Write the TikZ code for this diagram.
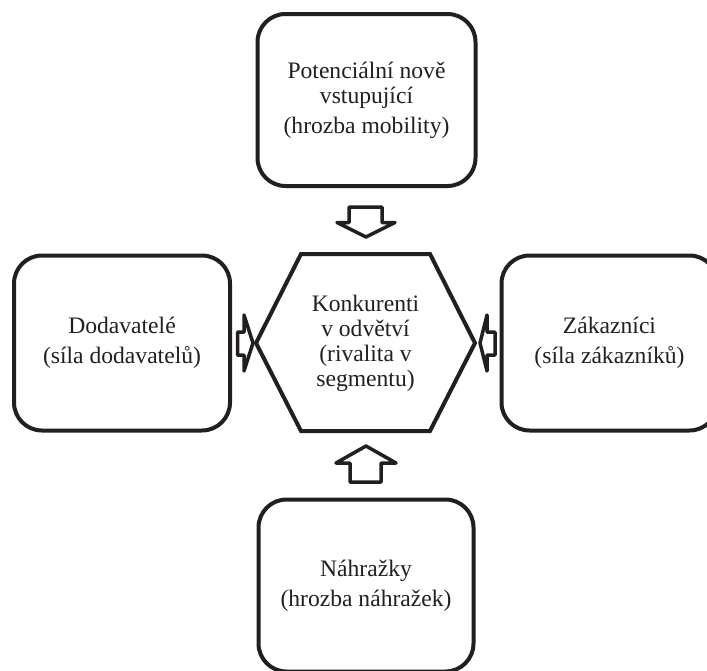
\documentclass[tikz,border=0pt]{standalone}
\usepackage{fontspec}
\setmainfont{Liberation Serif}
\definecolor{ink}{RGB}{35,31,32}
\begin{document}
\begin{tikzpicture}[x=1pt,y=-1pt,
  label font/.style={font=\fontsize{23.6}{25}\selectfont, text=ink, align=center},
  box/.style={draw=ink, line width=4pt, rounded corners=28pt, label font},
  hexline/.style={draw=ink, line width=4pt, line join=miter},
  blockarrow/.style={draw=ink, line width=3.5pt, line join=round, fill=white}]
  % canvas
  \useasboundingbox (0,0) rectangle (707,670);
  \fill[white] (0,0) rectangle (707,670);
  \clip (0,0) rectangle (707,670);

  % the four forces around the centre
  \node[box, minimum width=218pt, minimum height=172pt] (entrants) at (366.5,100)
    {Potenciální nově\\vstupující\\[5pt](hrozba mobility)};
  \node[box, minimum width=216pt, minimum height=175pt] (suppliers) at (122,343)
    {Dodavatelé\\[5pt](síla dodavatelů)};
  \node[box, minimum width=216pt, minimum height=175pt] (buyers) at (609.5,343)
    {Zákazníci\\[5pt](síla zákazníků)};
  \node[box, minimum width=215pt, minimum height=172pt] (substitutes) at (366,585.5)
    {Náhražky\\[5pt](hrozba náhražek)};

  % central hexagon: rivalry within the industry
  \draw[hexline] (256,343) -- (301,254) -- (430,254) -- (475,343)
    -- (430,431) -- (301,431) -- cycle;
  \node[label font] (rivalry) at (365.5,343)
    {Konkurenti\\v odvětví\\(rivalita v\\segmentu)};

  % block arrows pointing at the centre
  \draw[blockarrow] (349,207) -- (382,207) -- (382,222.5) -- (395,222.5)
    -- (366,237) -- (337,222.5) -- (349,222.5) -- cycle;
  \draw[blockarrow] (350,482) -- (381,482) -- (381,463) -- (396,463)
    -- (366,446) -- (336,463) -- (350,463) -- cycle;
  \draw[blockarrow] (237.5,332) -- (244,332) -- (244,315) -- (253,343)
    -- (244,371) -- (244,355) -- (237.5,355) -- cycle;
  \draw[blockarrow] (495,332) -- (487,332) -- (487,315) -- (480,343)
    -- (487,371) -- (487,355) -- (495,355) -- cycle;
\end{tikzpicture}
\end{document}
